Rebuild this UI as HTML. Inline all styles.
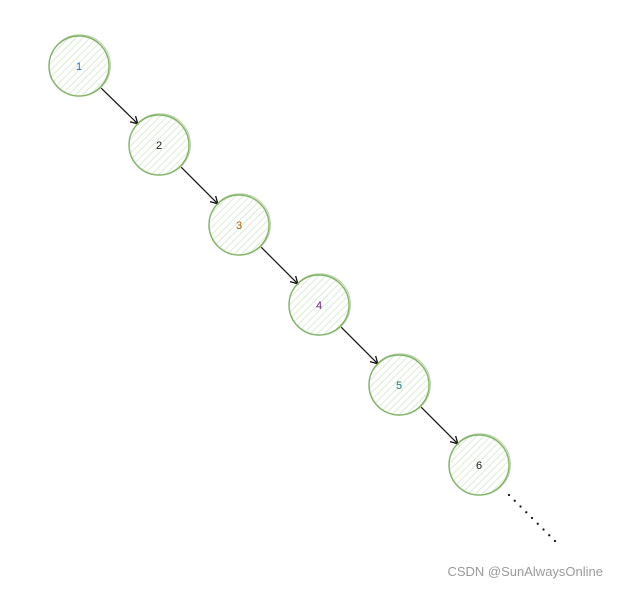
<!DOCTYPE html>
<html><head><meta charset="utf-8"><style>
html,body{margin:0;padding:0;background:#fff;width:617px;height:589px;overflow:hidden}
svg{display:block}
</style></head><body>
<svg id="chart" width="617" height="589" viewBox="0 0 617 589" xmlns="http://www.w3.org/2000/svg">
<defs>
<pattern id="hatch" width="5" height="5" patternUnits="userSpaceOnUse" patternTransform="rotate(45)">
<line x1="0" y1="0" x2="0" y2="5" stroke="#cfe8c8" stroke-width="1.6"/>
</pattern>
<marker id="arr" markerWidth="10" markerHeight="10" refX="8" refY="5" orient="auto" markerUnits="userSpaceOnUse">
<path d="M1,1 L8,5 L1,9" fill="none" stroke="#111" stroke-width="1.3"/>
</marker>
</defs>
<g id="g"></g>
<text x="603" y="576" text-anchor="end" font-family="Liberation Sans, sans-serif" font-size="13" fill="#9a9a9a">CSDN @SunAlwaysOnline</text>
</svg>
<script>
const labels=["1","2","3","4","5","6"];
const labelColors=["#1a73c8","#222","#b05a00","#6a1a8a","#0b7a7a","#222"];
const centerX=[79,159,239,319,399,479];
const centerY=[66,145,225,305,385,465];
const R=30;
const dotCount=9;
const NS="http://www.w3.org/2000/svg";
const g=document.getElementById('g');
function mk(t,a){const e=document.createElementNS(NS,t);for(const k in a)e.setAttribute(k,a[k]);g.appendChild(e);return e;}
for(let i=0;i<labels.length;i++){
  const cx=centerX[i],cy=centerY[i];
  const c=mk('circle',{cx:cx,cy:cy,r:R,fill:'url(#hatch)',stroke:'#82b366','stroke-width':1.4});
  
  
  const c2=mk('circle',{cx:cx+0.8,cy:cy-0.6,r:R+0.6,fill:'none',stroke:'#82b366','stroke-width':0.8,opacity:0.7});
  
  
  const t=mk('text',{x:cx,y:cy+4,'text-anchor':'middle','font-family':'Liberation Sans, sans-serif','font-size':11,fill:labelColors[i]});
  t.textContent=labels[i];
  
  
  if(i<labels.length-1){
    const d=R*0.707;
    const a=mk('line',{x1:cx+d+1,y1:cy+d+1,x2:centerX[i+1]-d,y2:centerY[i+1]-d,stroke:'#111','stroke-width':1.2,'marker-end':'url(#arr)'});
    
    
  }
}
const last=labels.length-1;
for(let k=0;k<dotCount;k++){
  const x=centerX[last]+30+k*5.75,y=centerY[last]+30+k*5.75;
  const dot=mk('circle',{cx:x,cy:y,r:1.1,fill:'#111'});
  
  
}
</script>
</body></html>
